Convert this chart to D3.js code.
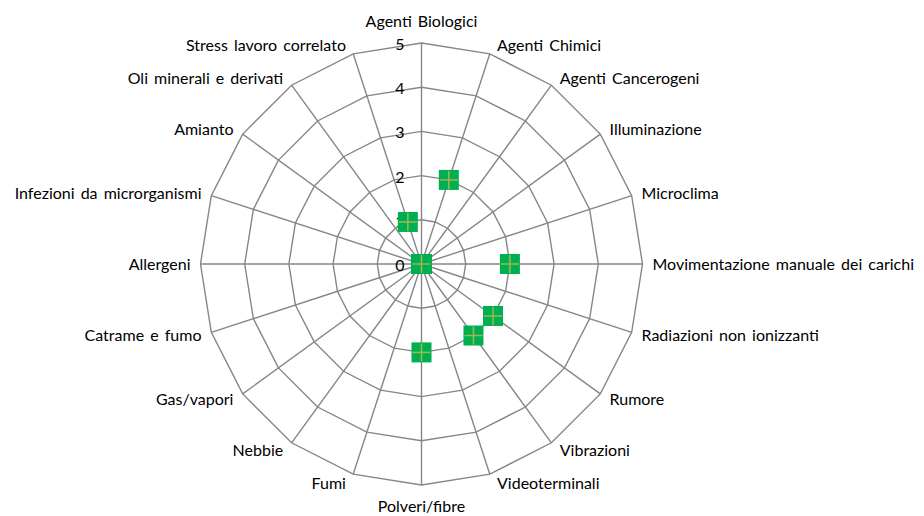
<!DOCTYPE html>
<html><head><meta charset="utf-8">
<script src="https://cdn.jsdelivr.net/npm/d3@7/dist/d3.min.js"></script>
<style>body{margin:0;background:#fff}svg{display:block}</style>
</head><body>
<svg id="c" width="924" height="516"></svg>
<script>
const categories = ["Agenti Biologici","Agenti Chimici","Agenti Cancerogeni","Illuminazione","Microclima","Movimentazione manuale dei carichi","Radiazioni non ionizzanti","Rumore","Vibrazioni","Videoterminali","Polveri/fibre","Fumi","Nebbie","Gas/vapori","Catrame e fumo","Allergeni","Infezioni da microrganismi","Amianto","Oli minerali e derivati","Stress lavoro correlato"];
const values = [0,2,0,0,0,2,0,2,2,0,2,0,0,0,0,0,0,0,0,1];
const ticks = [0,1,2,3,4,5];

const svg = d3.select("#c");
const cx = 421.5, cy = 264, R = 221;
const font = "Lato, 'Open Sans', sans-serif";
const r = d3.scaleLinear().domain([0,5]).range([0,R]);
const ang = d3.scalePoint().domain(categories).range([0, 2*Math.PI*(categories.length-1)/categories.length]);
const pt = (c,v) => [cx + r(v)*Math.sin(ang(c)), cy - r(v)*Math.cos(ang(c))];

const g = svg.append("g");
// rings
ticks.slice(1).forEach(t => {
  g.append("polygon")
    .attr("points", categories.map(c => pt(c,t).join(",")).join(" "))
    .attr("fill","none").attr("stroke","#868686").attr("stroke-width",1.4);
});
// spokes
categories.forEach(c => {
  const [x,y] = pt(c,5);
  g.append("line").attr("x1",cx).attr("y1",cy).attr("x2",x).attr("y2",y)
    .attr("stroke","#868686").attr("stroke-width",1.4);
});
// tick labels
ticks.forEach(t => {
  g.append("text").attr("x", cx-17).attr("y", cy - r(t) + 3)
    .attr("text-anchor","end").attr("dominant-baseline","middle")
    .attr("font-family",font).attr("font-size",16).attr("fill","#000").text(t);
});
// category labels
categories.forEach(c => {
  const a = ang(c);
  const [vx,vy] = pt(c,5);
  const s = Math.sin(a), co = Math.cos(a);
  let x, y, anchor;
  if (Math.abs(s) < 1e-6) {
    x = vx; anchor = "middle"; y = vy + (co > 0 ? -20 : 23);
  } else {
    anchor = s > 0 ? "start" : "end";
    x = vx + (s > 0 ? 1 : -1) * (6 + 4*Math.abs(s));
    y = vy - co*9 + 2;
  }
  g.append("text").attr("x",x).attr("y",y)
    .attr("text-anchor",anchor).attr("dominant-baseline","middle")
    .attr("font-family",font).attr("font-size",16).attr("word-spacing",2)
    .attr("fill","#000").text(c);
});
// markers
const m = g.append("g");
categories.forEach((c,i) => {
  const [x,y] = pt(c, values[i]);
  m.append("rect").attr("x",x-10).attr("y",y-10).attr("width",20).attr("height",20).attr("fill","#00B050");
  m.append("line").attr("x1",x-9).attr("x2",x+9).attr("y1",y).attr("y2",y).attr("stroke","#A4B553").attr("stroke-width",1.5);
  m.append("line").attr("x1",x).attr("x2",x).attr("y1",y-9).attr("y2",y+9).attr("stroke","#A4B553").attr("stroke-width",1.5);
});
</script>
</body></html>
